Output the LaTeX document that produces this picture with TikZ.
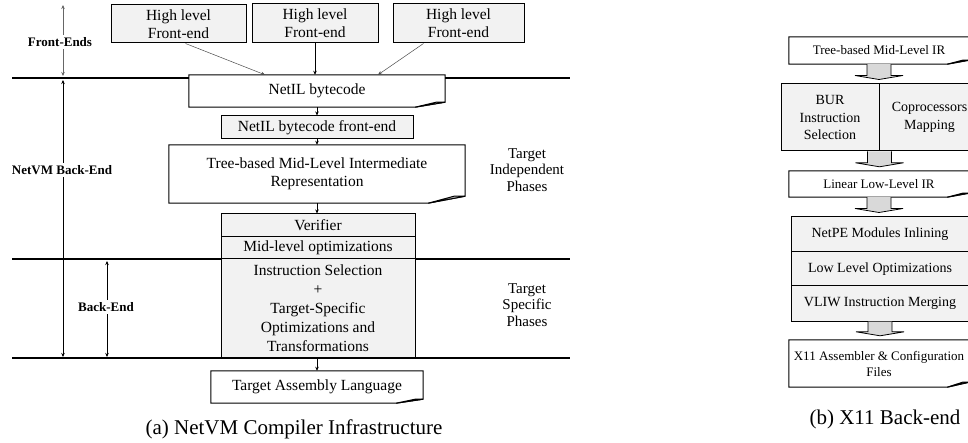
\documentclass[tikz,border=0pt]{standalone}
\usepackage{fontspec}
\setmainfont{Liberation Serif}
\usetikzlibrary{arrows.meta,calc}
\definecolor{boxgray}{HTML}{F2F2F2}
\definecolor{flapgray}{HTML}{BFBFBF}
\definecolor{arrgray}{HTML}{D9D9D9}
\newcommand\docoutline[3]{%
  \draw[boxline] (#1.north west) -- (#1.north east) -- ([yshift=#3]#1.south east)
    -- ([xshift=-#2]#1.south east) -- (#1.south west) -- cycle;
  \filldraw[boxline, fill=flapgray] ([xshift=-#2]#1.south east)
    -- ([xshift=-0.3*#2, yshift=#3]#1.south east) -- ([yshift=#3]#1.south east) -- cycle;
}
\newcommand\barrow[2]{%
  \filldraw[blockarr] let \p1=(#1), \p2=(#2) in
    (\x1-12pt,\y1) -- (\x1-12pt,\y2+8pt) -- (\x1-24pt,\y2+8pt) -- (\x1,\y2+4pt)
    -- (\x1+24pt,\y2+8pt) -- (\x1+12pt,\y2+8pt) -- (\x1+12pt,\y1);
}
\begin{document}
\begin{tikzpicture}[x=1pt,y=-1pt,
  every node/.style={inner sep=0pt, align=center},
  sz/.style 2 args={minimum width=#1, minimum height=#2},
  boxline/.style={draw=black, line width=1pt},
  graybox/.style={rectangle, boxline, fill=boxgray},
  docnode/.style={rectangle, fill=white},
  big/.style={font=\fontsize{15.5}{18}\selectfont},
  mid/.style={font=\fontsize{14}{17.5}\selectfont},
  small/.style={font=\fontsize{13}{16}\selectfont},
  side/.style={font=\fontsize{15}{16.5}\selectfont},
  lbl/.style={font=\fontsize{13}{15}\selectfont\bfseries, fill=white, inner sep=2pt},
  captext/.style={font=\fontsize{21}{24}\selectfont},
  arr/.style={line width=0.8pt, -{Stealth[length=4pt,width=3.5pt]}},
  thinarr/.style={line width=0.5pt, draw=black!70, -{Stealth[length=4pt,width=3.5pt]}},
  dblarr/.style={line width=0.8pt, {Stealth[length=4pt,width=3.5pt]}-{Stealth[length=4pt,width=3.5pt]}},
  sepline/.style={line width=1.2pt},
  blockarr/.style={draw=black, line width=0.8pt, fill=arrgray}
]
\clip (0,0) rectangle (968,443);
\fill[white] (0,0) rectangle (968,443);

% separating lines
\draw[sepline] (12,78) -- (570,78);
\draw[sepline] (12,259) -- (570,259);
\draw[sepline] (12,358) -- (570,358);

% ---------------- (a) ----------------
\node[graybox, big, sz={135}{38}] (HL1) at (178.5,24) {High level\\Front-end};
\node[graybox, big, sz={126}{39}] (HL2) at (315,23.5) {High level\\Front-end};
\node[graybox, big, sz={131}{39}] (HL3) at (458.5,23.5) {High level\\Front-end};

\node[docnode, big, sz={256}{32}] (NetIL) at (317,91) {NetIL bytecode};
\docoutline{NetIL}{30pt}{5pt}

\node[graybox, big, sz={192}{23}] (FE) at (317,127.5) {NetIL bytecode front-end};

\node[docnode, big, sz={296}{58}] (Tree) at (317,174) {Tree-based Mid-Level Intermediate\\Representation};
\docoutline{Tree}{37pt}{7pt}

\node[graybox, big, sz={194}{23}] (Ver) at (318,225.5) {Verifier};
\node[graybox, big, sz={194}{22}] (MidOpt) at (318,248) {Mid-level optimizations};
\node[graybox, font=\fontsize{15.5}{19}\selectfont, sz={194}{98}] (InstSel) at (318,308)
  {Instruction Selection\\+\\Target-Specific\\Optimizations and\\Transformations};

\node[docnode, big, sz={212}{32}] (TAL) at (317,387) {Target Assembly Language};
\docoutline{TAL}{27pt}{4pt}

\draw[thinarr] ($(HL1.south)+(7,0)$) -- ($(NetIL.north)+(-52,0)$);
\draw[arr] (HL2.south) -- (HL2.south |- NetIL.north);
\draw[thinarr] ($(HL3.south)+(-35,0)$) -- ($(NetIL.north)+(61,0)$);
\draw[arr] (NetIL.south) -- (FE.north);
\draw[arr] (FE.south) -- (Tree.north);
\draw[arr] (Tree.south) -- (Tree.south |- Ver.north);
\draw[arr] (InstSel.south -| TAL.north) -- (TAL.north);

% side labels
\node[side] (TIP) at (527,170) {Target\\Independent\\Phases};
\node[side] (TSP) at (527,305) {Target\\Specific\\Phases};

% left arrows
\coordinate (feTop) at (63,5);
\coordinate (feBot) at (63,76);
\coordinate (nbTop) at (63,80);
\coordinate (nbBot) at (63,357);
\coordinate (beTop) at (107,261);
\coordinate (beBot) at (107,357);
\draw[dblarr, draw=black!60] (feTop) -- (feBot);
\draw[dblarr] (nbTop) -- (nbBot);
\draw[dblarr] (beTop) -- (beBot);
\node[lbl] (feL) at (60,42) {Front-Ends};
\node[lbl] (nbL) at (62,170) {NetVM Back-End};
\node[lbl] (beL) at (106,307) {Back-End};

\node[captext] (capA) at (294,429) {(a) NetVM Compiler Infrastructure};

% ---------------- (b) ----------------
\node[docnode, small, sz={180}{27}] (TreeR) at (879,50.5) {Tree-based Mid-Level IR};
\docoutline{TreeR}{22pt}{4pt}

\node[graybox, mid, sz={98}{67}] (BUR) at (830,117.5) {BUR\\Instruction\\Selection};
\node[graybox, mid, sz={101}{67}] (Cop) at (929.5,117.5) {Coprocessors\\Mapping};

\node[docnode, small, sz={180}{26}] (Lin) at (879,184) {Linear Low-Level IR};
\docoutline{Lin}{22pt}{4pt}

\node[graybox, mid, sz={178}{35}] (NetPE) at (880,234.5) {NetPE Modules Inlining};
\node[graybox, mid, sz={178}{34}] (LowOpt) at (880,269) {Low Level Optimizations};
\node[graybox, mid, sz={178}{35}] (VLIW) at (880,303.5) {VLIW Instruction Merging};

\node[docnode, small, sz={180}{47}] (X11) at (879,363.5) {X11 Assembler \& Configuration\\Files};
\docoutline{X11}{22pt}{5pt}

\barrow{TreeR.south}{BUR.north east}
\barrow{BUR.south east}{Lin.north}
\barrow{Lin.south}{NetPE.north}
\barrow{VLIW.south}{X11.north}

\node[captext] (capB) at (885,419) {(b) X11 Back-end};
\end{tikzpicture}
\end{document}
